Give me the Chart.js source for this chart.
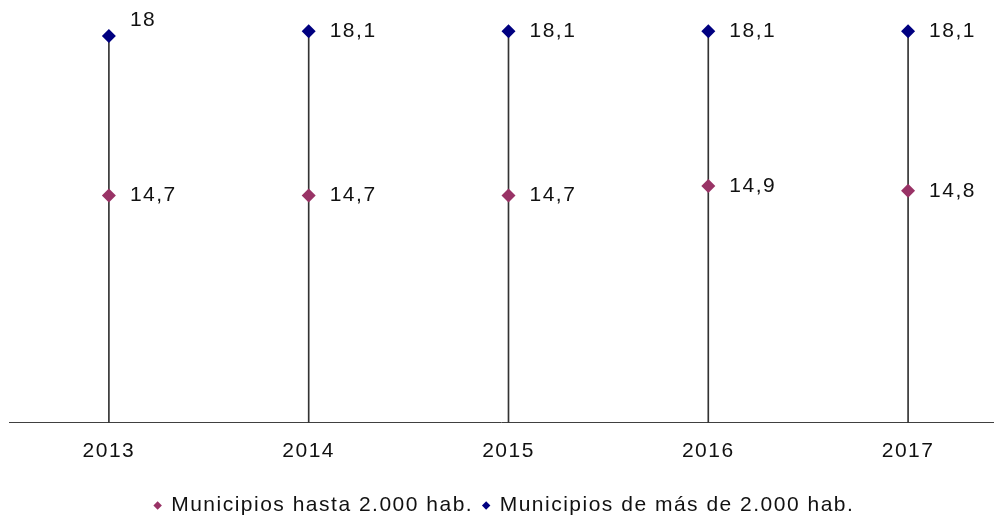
<!DOCTYPE html>
<html>
<head>
<meta charset="utf-8">
<script src="https://cdn.jsdelivr.net/npm/chart.js@4.4.1/dist/chart.umd.min.js"></script>
<style>
  body { margin: 0; background: #fff; }
  canvas { display: block; }
</style>
</head>
<body>
<canvas id="chart" width="1000" height="516"></canvas>
<script>
// Data
const years = ["2013", "2014", "2015", "2016", "2017"];
const hastaDosMil = [14.7, 14.7, 14.7, 14.9, 14.8];
const masDeDosMil = [18, 18.1, 18.1, 18.1, 18.1];
const seriesNames = ["Municipios hasta 2.000 hab.", "Municipios de más de 2.000 hab."];

const purple = "#993366";
const navy = "#000080";
const FONT = "'Liberation Sans', Arial, sans-serif";
const SPACING = "1.5px";

// vertical drop line goes from the axis up to the higher point
const dropTop = years.map((y, i) => Math.max(hastaDosMil[i], masDeDosMil[i]));

// label nudges (the 2013 label of the upper series sits above its marker)
const labelDy = [[0, 0, 0, 0, 0], [-16, 0, 0, 0, 0]];

const letterSpacing = {
    id: "letterSpacing",
    beforeUpdate(chart) { chart.ctx.letterSpacing = SPACING; },
    beforeDraw(chart) { chart.ctx.letterSpacing = SPACING; }
};

const valueLabels = {
    id: "valueLabels",
    afterDatasetsDraw(chart) {
        const ctx = chart.ctx;
        ctx.save();
        ctx.font = "21px " + FONT;
        ctx.fillStyle = "#111";
        ctx.textBaseline = "middle";
        ctx.textAlign = "left";
        [1, 2].forEach((dsIndex, s) => {
            const meta = chart.getDatasetMeta(dsIndex);
            meta.data.forEach((pt, i) => {
                const v = chart.data.datasets[dsIndex].data[i].y;
                ctx.fillText(String(v).replace(".", ","), pt.x + 21, pt.y + labelDy[s][i]);
            });
        });
        ctx.restore();
    }
};

new Chart(document.getElementById("chart"), {
    type: "scatter",
    data: {
        datasets: [
            {
                type: "bar",
                label: "drop",
                data: dropTop.map((v, i) => ({ x: i, y: v })),
                backgroundColor: "#333",
                barThickness: 1,
                order: 3
            },
            {
                label: seriesNames[0],
                data: hastaDosMil.map((v, i) => ({ x: i, y: v })),
                pointStyle: "rectRot",
                pointRadius: 7,
                pointHoverRadius: 7,
                backgroundColor: purple,
                borderColor: purple,
                borderWidth: 0,
                order: 1
            },
            {
                label: seriesNames[1],
                data: masDeDosMil.map((v, i) => ({ x: i, y: v })),
                pointStyle: "rectRot",
                pointRadius: 7,
                pointHoverRadius: 7,
                backgroundColor: navy,
                borderColor: navy,
                borderWidth: 0,
                order: 1
            }
        ]
    },
    options: {
        responsive: false,
        animation: false,
        events: [],
        layout: { padding: { top: 6, left: 9, right: 0, bottom: -10 } },
        scales: {
            x: {
                type: "linear",
                offset: false,
                min: -0.5,
                max: 4.425,
                afterBuildTicks: scale => { scale.ticks = years.map((y, i) => ({ value: i })); },
                afterFit: scale => { scale.height += 5; },
                grid: { display: false, drawTicks: false, offset: false },
                border: { display: true, color: "#404040", width: 1 },
                ticks: {
                    padding: 16,
                    color: "#111",
                    font: { family: FONT, size: 21 },
                    callback: v => years[v]
                }
            },
            y: {
                display: false,
                min: 10,
                max: 18.6
            }
        },
        plugins: {
            tooltip: { enabled: false },
            legend: {
                position: "bottom",
                labels: {
                    filter: item => item.datasetIndex !== 0,
                    usePointStyle: true,
                    boxWidth: 6,
                    boxHeight: 6,
                    padding: 10,
                    color: "#111",
                    font: { family: FONT, size: 21 }
                }
            }
        }
    },
    plugins: [letterSpacing, valueLabels]
});
</script>
</body>
</html>
